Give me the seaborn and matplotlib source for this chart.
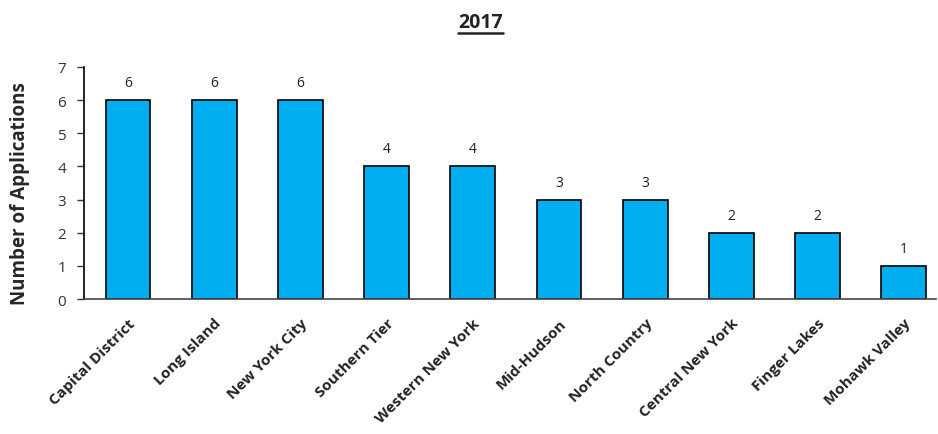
import matplotlib
matplotlib.use("Agg")
import matplotlib.pyplot as plt
import seaborn as sns
import pandas as pd
from matplotlib.lines import Line2D

regions = ["Capital District", "Long Island", "New York City", "Southern Tier",
           "Western New York", "Mid-Hudson", "North Country", "Central New York",
           "Finger Lakes", "Mohawk Valley"]
applications = [6, 6, 6, 4, 4, 3, 3, 2, 2, 1]
title = "2017"

sns.set_theme(style="white")
plt.rcParams['font.family'] = ['Open Sans', 'DejaVu Sans']

df = pd.DataFrame({"region": regions, "count": applications})

fig = plt.figure(figsize=(9.38, 4.35), dpi=100)
ax = fig.add_axes([0.0896, 0.310, 0.908, 0.534])

sns.barplot(data=df, x="region", y="count", color="#00AEEF", saturation=1,
            width=0.52, edgecolor="black", linewidth=1.2, ax=ax)

for i, v in enumerate(applications):
    ax.text(i, v + 0.3, str(v), ha="center", va="bottom", fontsize=10, color="#222222")

ax.set_xlim(-0.51, 9.37)
ax.set_ylim(0, 7)
ax.set_yticks(range(0, 8))
ax.set_ylabel("Number of Applications", fontsize=13.5, fontweight="bold")
ax.yaxis.set_label_coords(-0.064, 0.46)
ax.set_xlabel("")
ax.tick_params(axis="y", labelsize=11, left=True, length=5, width=1, pad=8, colors="#333333")
ax.tick_params(axis="x", bottom=False, pad=6)
ax.set_xticks(range(len(regions)))
ax.set_xticklabels(regions, rotation=45, ha="right", rotation_mode="anchor",
                   fontsize=11, fontweight="bold", color="#222222")

for side in ["top", "right"]:
    ax.spines[side].set_visible(False)
ax.spines["left"].set_color("black")
ax.spines["bottom"].set_color("#444444")
ax.spines["left"].set_linewidth(1.2)
ax.spines["bottom"].set_linewidth(1.2)

t = fig.text(0.512, 0.925, title, ha="center", va="bottom", fontsize=14,
             fontweight="bold", color="#222222")
fig.canvas.draw()
bb = t.get_window_extent().transformed(fig.transFigure.inverted())
fig.add_artist(Line2D([bb.x0, bb.x1], [bb.y0 - 0.004, bb.y0 - 0.004],
                      transform=fig.transFigure, color="#222222", linewidth=1.8))

fig.savefig("out.png", dpi=100)
